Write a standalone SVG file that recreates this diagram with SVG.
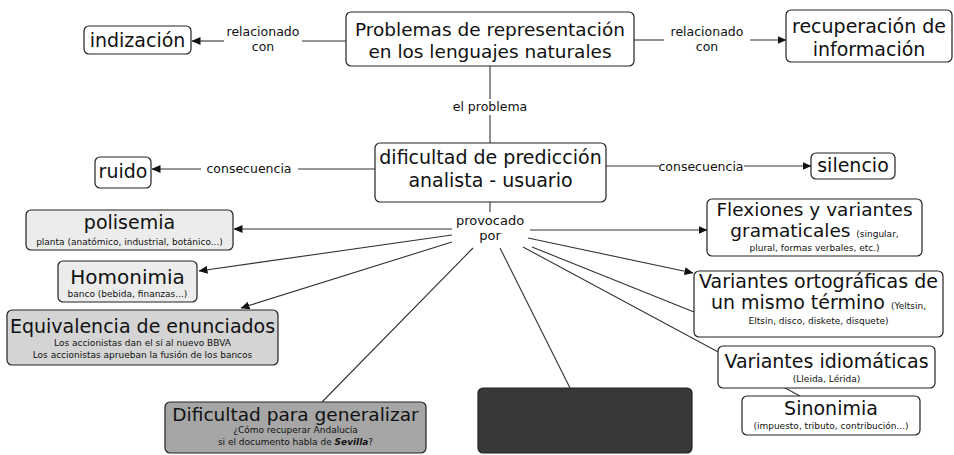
<svg xmlns="http://www.w3.org/2000/svg" width="954" height="455" viewBox="0 0 954 455">
<defs>
<marker id="ah" markerWidth="9" markerHeight="8" refX="8.5" refY="4" orient="auto" markerUnits="userSpaceOnUse">
<path d="M0,0 L9,4 L0,8 Z" fill="#111"/>
</marker>
<style>
text{font-family:"DejaVu Sans","Liberation Sans",sans-serif;fill:#111;text-anchor:middle}
.t{font-size:19px}
.l{font-size:12.5px}
.s{font-size:9px}
.box{fill:#fff;stroke:#222;stroke-width:1.2}
.lt{fill:#ececec;stroke:#222;stroke-width:1.2}
.md{fill:#d4d4d4;stroke:#222;stroke-width:1.2}
.dk{fill:#a6a6a6;stroke:#222;stroke-width:1.2}
.bk{fill:#383838;stroke:#222;stroke-width:1.2}
.c line,.c path{stroke:#333;stroke-width:1.1;fill:none}
.a{marker-end:url(#ah)}
</style>
</defs>
<rect width="954" height="455" fill="#fff"/>
<g class="c" id="connectors">
<line x1="346" y1="41" x2="302" y2="41"/>
<line class="a" x1="224" y1="41" x2="192" y2="41"/>
<line x1="634" y1="40" x2="664" y2="40"/>
<line class="a" x1="750" y1="40" x2="786" y2="40"/>
<line x1="490" y1="66" x2="490" y2="99"/>
<line x1="490" y1="115" x2="490" y2="143"/>
<line x1="375" y1="169" x2="298" y2="169"/>
<line class="a" x1="201" y1="169" x2="152" y2="169"/>
<line x1="606" y1="166" x2="659" y2="166"/>
<line class="a" x1="744" y1="166" x2="811" y2="166"/>
<line x1="490" y1="202" x2="490" y2="212"/>
<line class="a" x1="452" y1="229" x2="234" y2="229"/>
<line class="a" x1="452" y1="235" x2="199" y2="271"/>
<line class="a" x1="452" y1="242" x2="241" y2="308"/>
<line x1="473" y1="248" x2="322" y2="402"/>
<line x1="500" y1="248" x2="570" y2="388"/>
<line class="a" x1="530" y1="230" x2="707" y2="230"/>
<line class="a" x1="528" y1="238" x2="693" y2="273"/>
<line x1="532" y1="247" x2="694" y2="312"/>
<line x1="523" y1="247" x2="800" y2="396"/>
</g>
<g id="labels">
<text class="l" x="263" y="36">relacionado</text>
<text class="l" x="263" y="51">con</text>
<text class="l" x="707" y="36">relacionado</text>
<text class="l" x="707" y="51">con</text>
<text class="l" x="490" y="111">el problema</text>
<text class="l" x="249" y="173">consecuencia</text>
<text class="l" x="701" y="171">consecuencia</text>
<text class="l" x="490" y="225" style="font-size:13px">provocado</text>
<text class="l" x="490" y="240" style="font-size:13px">por</text>
</g>
<g id="n-problemas">
<rect class="box" x="346" y="12" width="288" height="54" rx="5"/>
<text class="t" x="490" y="36" style="font-size:18.5px">Problemas de representación</text>
<text class="t" x="490" y="58" style="font-size:18.5px">en los lenguajes naturales</text>
</g>
<g id="n-indizacion">
<rect class="box" x="84" y="26" width="107" height="28" rx="5"/>
<text class="t" x="137.5" y="47">indización</text>
</g>
<g id="n-recuperacion">
<rect class="box" x="786" y="10" width="166" height="52" rx="5"/>
<text class="t" x="869" y="33">recuperación de</text>
<text class="t" x="869" y="56">información</text>
</g>
<g id="n-dificultad">
<rect class="box" x="375" y="143" width="231" height="59" rx="5"/>
<text class="t" x="490.5" y="164">dificultad de predicción</text>
<text class="t" x="490.5" y="187">analista - usuario</text>
</g>
<g id="n-ruido">
<rect class="box" x="95" y="157" width="56" height="31" rx="5"/>
<text class="t" x="123" y="178">ruido</text>
</g>
<g id="n-silencio">
<rect class="box" x="811" y="153" width="84" height="26" rx="5"/>
<text class="t" x="853" y="172">silencio</text>
</g>
<g id="n-polisemia">
<rect class="lt" x="26" y="210" width="207" height="40" rx="5"/>
<text class="t" x="129.5" y="229">polisemia</text>
<text class="s" x="129.5" y="245">planta (anatómico, industrial, botánico...)</text>
</g>
<g id="n-homonimia">
<rect class="lt" x="58" y="261" width="139" height="41" rx="5"/>
<text class="t" x="127.5" y="284" style="font-size:20px">Homonimia</text>
<text class="s" x="127.5" y="297">banco (bebida, finanzas...)</text>
</g>
<g id="n-equivalencia">
<rect class="md" x="7" y="310" width="271" height="55" rx="5"/>
<text class="t" x="142.5" y="333">Equivalencia de enunciados</text>
<text class="s" x="142.5" y="346">Los accionistas dan el sí al nuevo BBVA</text>
<text class="s" x="142.5" y="358">Los accionistas aprueban la fusión de los bancos</text>
</g>
<g id="n-generalizar">
<rect class="dk" x="165" y="402" width="261" height="51" rx="5"/>
<text class="t" x="295.5" y="421" style="font-size:18.5px">Dificultad para generalizar</text>
<text class="s" x="295.5" y="433">¿Cómo recuperar Andalucía</text>
<text class="s" x="295.5" y="445">si el documento habla de <tspan style="font-weight:bold;font-style:italic">Sevilla</tspan>?</text>
</g>
<g id="n-oscuro">
<rect class="bk" x="478" y="388" width="214" height="65" rx="5"/>
</g>
<g id="n-flexiones">
<rect class="box" x="707" y="199" width="215" height="57" rx="5"/>
<text class="t" x="814.5" y="216" style="font-size:18.5px">Flexiones y variantes</text>
<text class="t" x="814.5" y="237" style="font-size:18.5px">gramaticales <tspan class="s">(singular,</tspan></text>
<text class="s" x="814.5" y="251">plural, formas verbales, etc.)</text>
</g>
<g id="n-ortograficas">
<rect class="box" x="694" y="271" width="249" height="66" rx="5"/>
<text class="t" x="818.5" y="288">Variantes ortográficas de</text>
<text class="t" x="818.5" y="309">un mismo término <tspan class="s">(Yeltsin,</tspan></text>
<text class="s" x="818.5" y="324">Eltsin, disco, diskete, disquete)</text>
</g>
<g id="n-idiomaticas">
<rect class="box" x="718" y="346" width="217" height="42" rx="5"/>
<text class="t" x="826.5" y="368">Variantes idiomáticas</text>
<text class="s" x="826.5" y="382">(Lleida, Lérida)</text>
</g>
<g id="n-sinonimia">
<rect class="box" x="742" y="396" width="178" height="39" rx="5"/>
<text class="t" x="831" y="415">Sinonimia</text>
<text class="s" x="831" y="429">(impuesto, tributo, contribución...)</text>
</g>
</svg>
